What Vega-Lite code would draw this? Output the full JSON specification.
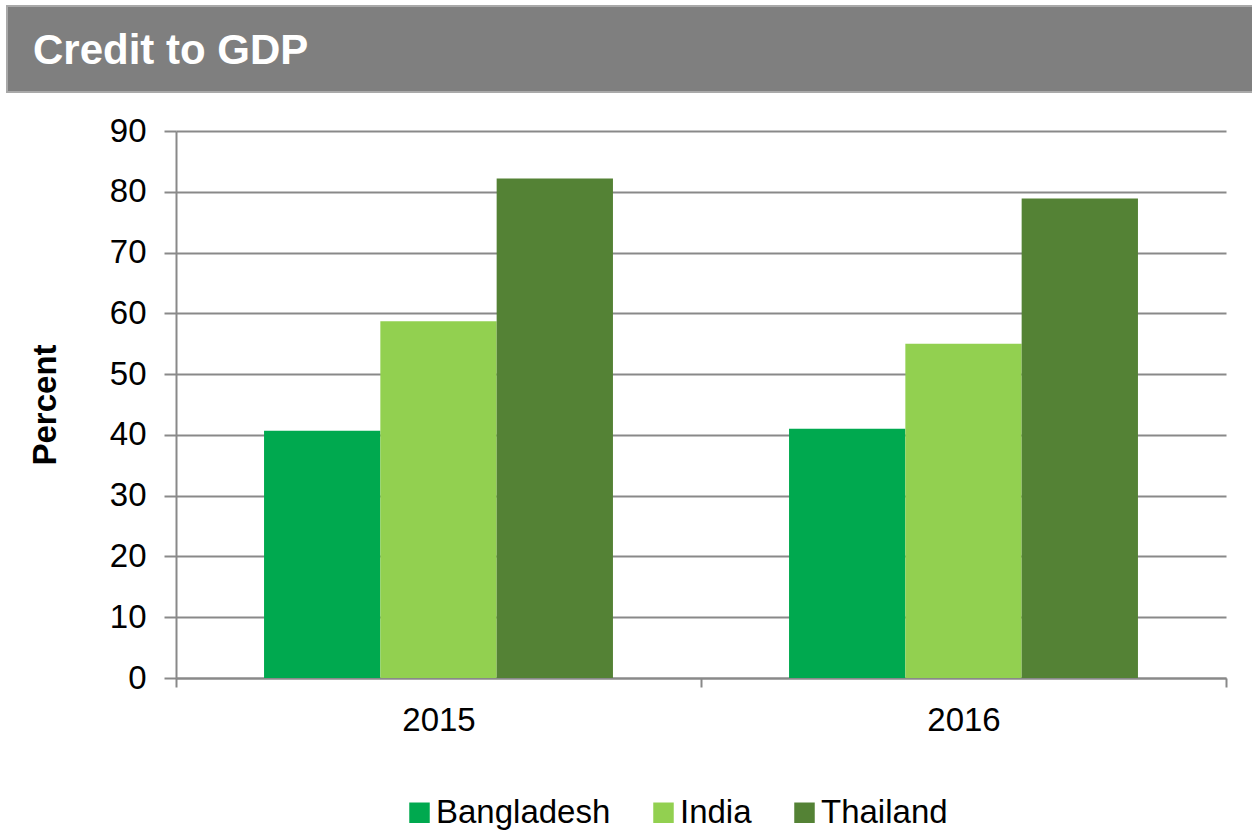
{
  "$schema": "https://vega.github.io/schema/vega-lite/v6.json",
  "padding": {"left": 6, "top": 5, "right": 0, "bottom": 0},
  "background": "white",
  "config": {"view": {"stroke": null}, "font": "Liberation Sans"},
  "resolve": {"scale": {"color": "independent"}, "legend": {"color": "independent"}},
  "spacing": 22,
  "vconcat": [
    {
      "width": 1246,
      "height": 86,
      "data": {"values": [{"label": "Credit to GDP"}]},
      "layer": [
        {
          "mark": {"type": "rect", "fill": "#7f7f7f", "stroke": "#a9a9a9", "strokeWidth": 2},
          "encoding": {}
        },
        {
          "mark": {
            "type": "text",
            "align": "left",
            "baseline": "alphabetic",
            "dx": 26,
            "dy": 15,
            "color": "white",
            "fontSize": 42,
            "fontWeight": "bold",
            "font": "Liberation Sans"
          },
          "encoding": {
            "x": {
              "field": "label",
              "type": "nominal",
              "scale": {"type": "point", "padding": 0, "align": 0},
              "axis": null
            },
            "text": {"field": "label", "type": "nominal"}
          }
        }
      ]
    },
    {
      "spacing": 21,
      "resolve": {"scale": {"color": "independent"}, "legend": {"color": "independent"}},
      "hconcat": [
        {
          "width": 1,
          "height": 547,
          "data": {"values": [{"label": ""}]},
          "mark": {"type": "rect", "opacity": 0}
        },
        {
          "width": 1050,
          "height": 547,
          "data": {
            "values": [
              {"year": "2015", "country": "Bangladesh", "value": 40.7},
              {"year": "2015", "country": "India", "value": 58.7},
              {"year": "2015", "country": "Thailand", "value": 82.2},
              {"year": "2016", "country": "Bangladesh", "value": 41.0},
              {"year": "2016", "country": "India", "value": 55.0},
              {"year": "2016", "country": "Thailand", "value": 78.9}
            ]
          },
          "mark": {"type": "bar"},
          "encoding": {
            "x": {
              "field": "year",
              "type": "nominal",
              "scale": {"paddingInner": 0, "paddingOuter": 0},
              "axis": {
                "title": null,
                "labelAngle": 0,
                "labelFontSize": 33,
                "labelColor": "black",
                "labelPadding": 17,
                "tickBand": "extent",
                "tickSize": 9,
                "tickColor": "#898989",
                "tickWidth": 2,
                "domainColor": "#898989",
                "domainWidth": 2,
                "grid": false
              }
            },
            "xOffset": {
              "field": "country",
              "type": "nominal",
              "sort": ["Bangladesh", "India", "Thailand"],
              "scale": {"paddingInner": 0, "paddingOuter": 0.757}
            },
            "y": {
              "field": "value",
              "type": "quantitative",
              "scale": {"domain": [0, 90], "nice": false},
              "axis": {
                "title": "Percent",
                "values": [0, 10, 20, 30, 40, 50, 60, 70, 80, 90],
                "titleFontSize": 33,
                "titleFontWeight": "bold",
                "titleColor": "black",
                "titlePadding": 47,
                "labelFontSize": 33,
                "labelColor": "black",
                "labelPadding": 18,
                "tickSize": 12,
                "tickColor": "#898989",
                "tickWidth": 2,
                "domainColor": "#898989",
                "domainWidth": 2,
                "gridColor": "#898989",
                "gridWidth": 2
              }
            },
            "color": {
              "field": "country",
              "type": "nominal",
              "sort": ["Bangladesh", "India", "Thailand"],
              "scale": {"domain": ["Bangladesh", "India", "Thailand"], "range": ["#00a94f", "#92d050", "#548235"]},
              "legend": {
                "title": null,
                "orient": "none",
                "legendX": 227,
                "legendY": 665,
                "direction": "horizontal",
                "symbolType": "square",
                "symbolSize": 420,
                "symbolStrokeWidth": 0,
                "labelFontSize": 33,
                "labelColor": "black",
                "labelOffset": 0,
                "labelLimit": 0,
                "columnPadding": 36
              }
            }
          }
        }
      ]
    }
  ]
}
